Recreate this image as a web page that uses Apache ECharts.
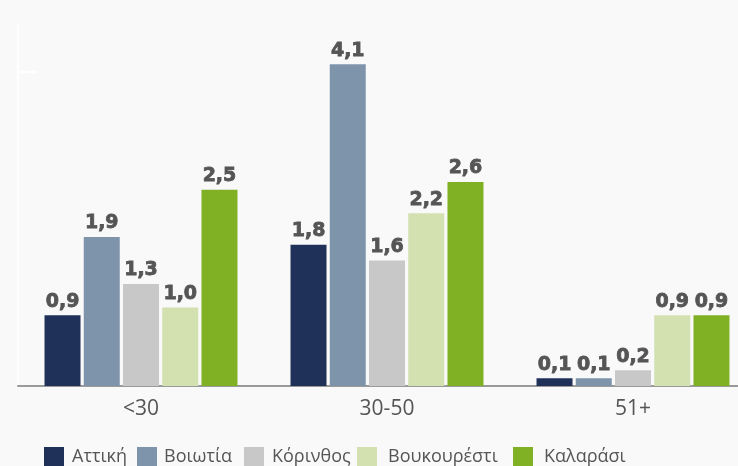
<!DOCTYPE html>
<html>
<head>
<meta charset="utf-8">
<script src="https://cdn.jsdelivr.net/npm/echarts@6/dist/echarts.min.js"></script>
<style>
html, body { margin: 0; padding: 0; background: #f9f9f9; }
#chart { width: 738px; height: 466px; }
</style>
</head>
<body>
<div id="chart"></div>
<script>
var categories = ['<30', '30-50', '51+'];
var seriesNames = ['Αττική', 'Βοιωτία', 'Κόρινθος', 'Βουκουρέστι', 'Καλαράσι'];
var attiki = [0.9, 1.8, 0.1];
var voiotia = [1.9, 4.1, 0.1];
var korinthos = [1.3, 1.6, 0.2];
var voukouresti = [1.0, 2.2, 0.9];
var kalarasi = [2.5, 2.6, 0.9];
var colors = ['#1f3159', '#7d94ab', '#c8c8c8', '#d3e0b0', '#80b124'];
// legend items are not evenly spaced in the original
var legendLeft = [39, 132, 239, 352, 508];
var legendTextGap = [3, 2, 3, 6, 6];

var seriesData = [attiki, voiotia, korinthos, voukouresti, kalarasi];

function makeSeries(){
	var list = [];
	for (var i = 0; i < seriesNames.length; i++) {
		list.push({
			name: seriesNames[i],
			type: 'bar',
			data: seriesData[i],
			barWidth: 36,
			barGap: '9%',
			itemStyle: { color: colors[i] },
			label: {
				show: true,
				position: 'top',
				distance: 4,
				color: '#555',
				fontFamily: 'DejaVu Sans',
				fontWeight: 'bold',
				fontSize: 19,
				textBorderColor: '#555',
				textBorderWidth: 0.8,
				formatter: function(p){
					return p.value.toFixed(1).replace('.', ',');
				}
			}
		});
	}
	return list;
}

function makeLegends(){
	var list = [];
	for (var i = 0; i < seriesNames.length; i++) {
		list.push({
			data: [seriesNames[i]],
			left: legendLeft[i],
			top: 442,
			itemWidth: 20,
			itemHeight: 20,
			icon: 'rect',
			textStyle: { color: '#555', fontSize: 18, fontFamily: 'Open Sans', padding: [0, 0, 0, legendTextGap[i]] }
		});
	}
	return list;
}

var chart = echarts.init(document.getElementById('chart'));
var option = {
	backgroundColor: '#f9f9f9',
	animation: false,
	grid: { left: 18, width: 738, top: 25, bottom: 80, outerBoundsMode: 'none' },
	legend: makeLegends(),
	xAxis: {
		type: 'category',
		data: categories,
		axisLine: { lineStyle: { color: '#9a9a9a', width: 2 } },
		axisTick: { show: false },
		axisLabel: { color: '#555', fontSize: 21, fontFamily: 'Open Sans', margin: 13 }
	},
	yAxis: {
		type: 'value',
		min: 0,
		max: 4.6,
		interval: 4,
		axisLine: { show: true, lineStyle: { color: '#ffffff', width: 2 } },
		axisTick: { show: true, inside: true, length: 18, customValues: [4], lineStyle: { color: '#ffffff', width: 2 } },
		axisLabel: { show: false },
		splitLine: { show: false }
	},
	series: makeSeries()
};
chart.setOption(option);
</script>
</body>
</html>
